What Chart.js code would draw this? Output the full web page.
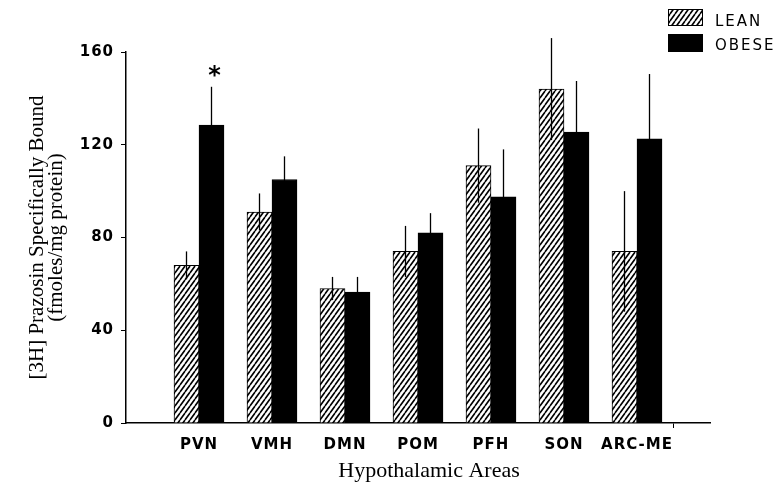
<!DOCTYPE html>
<html>
<head>
<meta charset="utf-8">
<script src="https://cdn.jsdelivr.net/npm/chart.js@4.4.0/dist/chart.umd.min.js"></script>
<style>
  html, body { margin: 0; padding: 0; background: #fff; }
  #wrap { width: 777px; height: 492px; position: relative; }
</style>
</head>
<body>
<div id="wrap"><canvas id="chart"></canvas></div>
<script>
// values (fmoles/mg protein)
const categories = ['PVN', 'VMH', 'DMN', 'POM', 'PFH', 'SON', 'ARC-ME'];
const lean = [68, 91, 58, 74, 111, 144, 74];
const leanErr = [6, 8, 5, 11, 16, 22, 26];
const obese = [128.5, 105, 56.5, 82, 97.5, 125.5, 122.5];
const obeseErr = [16.5, 10, 6.5, 8.5, 20.5, 22, 28];
const obeseMarks = ['*', '', '', '', '', '', ''];
const yTicks = [0, 40, 80, 120, 160];

// empty slot at each end so the axis runs past the first and last group
const labels = ['', ...categories, ''];
const pad = arr => [null, ...arr, null];

const hatch = (() => {
  const c = document.createElement('canvas');
  c.width = 5; c.height = 7;
  const g = c.getContext('2d');
  g.fillStyle = '#fff';
  g.fillRect(0, 0, 5, 7);
  g.strokeStyle = '#000';
  g.lineWidth = 1.6;
  g.beginPath();
  for (const dx of [-5, 0, 5]) {
    g.moveTo(dx, 7);
    g.lineTo(dx + 5, 0);
  }
  g.stroke();
  return g.createPattern(c, 'repeat');
})();

const tickFont = { family: 'DejaVu Sans', size: 15, weight: 'bold' };

const errorBars = {
  id: 'errorBars',
  beforeDraw(chart) {
    chart.ctx.letterSpacing = '0px';
  },
  afterDatasetsDraw(chart) {
    const ctx = chart.ctx;
    const y = chart.scales.y;
    ctx.save();
    ctx.strokeStyle = '#000';
    ctx.lineWidth = 1.3;
    chart.data.datasets.forEach((ds, i) => {
      const meta = chart.getDatasetMeta(i);
      meta.data.forEach((bar, j) => {
        const v = ds.data[j];
        if (v == null) return;
        const e = ds.errors[j];
        ctx.beginPath();
        ctx.moveTo(bar.x, y.getPixelForValue(v - e));
        ctx.lineTo(bar.x, y.getPixelForValue(v + e));
        ctx.stroke();
        const mark = ds.marks && ds.marks[j];
        if (mark) {
          ctx.fillStyle = '#000';
          ctx.font = 'bold 24px "DejaVu Sans"';
          ctx.textAlign = 'center';
          ctx.textBaseline = 'middle';
          ctx.fillText(mark, bar.x + 3, y.getPixelForValue(v + e) - 10);
        }
      });
    });
    ctx.restore();
    // tick labels are drawn after this (z: 1) and are letter-spaced
    ctx.letterSpacing = '1px';
  },
  afterDraw(chart) {
    const ctx = chart.ctx;
    ctx.save();
    ctx.letterSpacing = '2px';
    ctx.font = '15px "DejaVu Sans"';
    ctx.textBaseline = 'middle';
    ctx.textAlign = 'left';
    ctx.lineWidth = 1;
    ctx.strokeStyle = '#000';
    const rows = [[9, 17, 22.5], [34, 18, 46]];
    chart.data.datasets.forEach((ds, i) => {
      const [top, h, ty] = rows[i];
      ctx.fillStyle = ds.backgroundColor;
      ctx.fillRect(668, top, 35, h);
      ctx.strokeRect(668.5, top + 0.5, 34, h - 1);
      ctx.fillStyle = '#000';
      ctx.fillText(ds.label, 715, ty);
    });
    ctx.restore();
  }
};

new Chart(document.getElementById('chart'), {
  type: 'bar',
  data: {
    labels: labels,
    datasets: [
      {
        label: 'LEAN',
        data: pad(lean),
        errors: pad(leanErr),
        backgroundColor: hatch,
        borderColor: '#000',
        borderWidth: 1,
        barThickness: 25
      },
      {
        label: 'OBESE',
        data: pad(obese),
        errors: pad(obeseErr),
        marks: pad(obeseMarks),
        backgroundColor: '#000',
        borderColor: '#000',
        borderWidth: 1,
        barThickness: 25
      }
    ]
  },
  options: {
    responsive: true,
    maintainAspectRatio: false,
    animation: false,
    layout: { padding: { left: 0, top: 52, right: 67, bottom: 0 } },
    plugins: {
      legend: { display: false },
      tooltip: { enabled: false }
    },
    scales: {
      x: {
        offset: false,
        grid: {
          display: true,
          drawOnChartArea: false,
          drawTicks: true,
          tickLength: 5,
          color: c => (c.index === labels.length - 1 ? '#000' : 'rgba(0,0,0,0)')
        },
        border: { display: true, color: '#000', width: 1.5 },
        ticks: {
          z: 1,
          autoSkip: false,
          maxRotation: 0,
          padding: 8,
          color: '#000',
          font: tickFont
        },
        title: {
          display: true,
          text: '\u2002\u2002Hypothalamic Areas',
          color: '#000',
          font: { family: 'Liberation Serif', size: 22 },
          padding: { top: 0, bottom: 8 }
        },
        afterFit: s => { s.height = 69; }
      },
      y: {
        min: 0,
        max: 160,
        afterBuildTicks: s => { s.ticks = yTicks.map(v => ({ value: v })); },
        grid: {
          display: true,
          drawOnChartArea: false,
          drawTicks: true,
          tickLength: 5,
          color: '#000'
        },
        border: { display: true, color: '#000', width: 1.5 },
        ticks: {
          z: 1,
          padding: 7,
          color: '#000',
          font: tickFont
        },
        title: {
          display: true,
          text: ['[3H] Prazosin Specifically Bound', '(fmoles/mg protein)'],
          color: '#000',
          font: { family: 'Liberation Serif', size: 21, lineHeight: '19px' },
          padding: { top: 28, bottom: 0 }
        },
        afterFit: s => { s.width = 126; }
      }
    }
  },
  plugins: [errorBars]
});
</script>
</body>
</html>
